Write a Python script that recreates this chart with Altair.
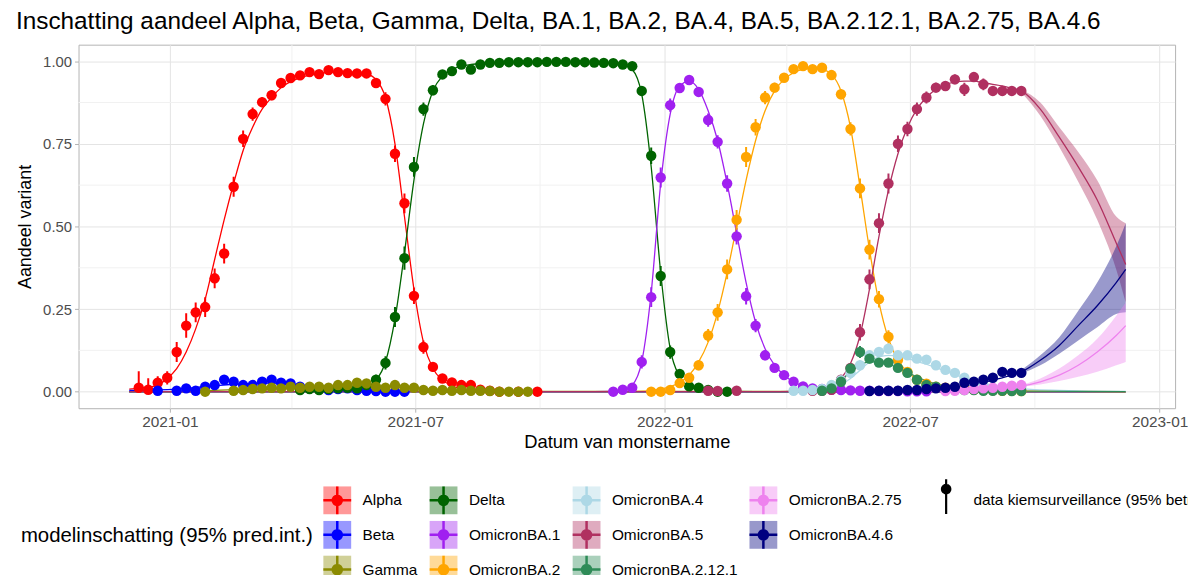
import altair as alt
import pandas as pd

# ---------------------------------------------------------------- texts / categories
TITLE = "Inschatting aandeel Alpha, Beta, Gamma, Delta, BA.1, BA.2, BA.4, BA.5, BA.2.12.1, BA.2.75, BA.4.6"
X_TITLE = "Datum van monstername"
Y_TITLE = "Aandeel variant"
LEGEND_TITLE = "modelinschatting (95% pred.int.)"
DATA_LABEL = "data kiemsurveillance (95% betr.int.)"

VARIANTS = ["Alpha", "Beta", "Gamma", "Delta", "OmicronBA.1", "OmicronBA.2", "OmicronBA.4",
            "OmicronBA.5", "OmicronBA.2.12.1", "OmicronBA.2.75", "OmicronBA.4.6"]
COLORS = ["#FF0000", "#0000FF", "#8B8B00", "#006400", "#A020F0", "#FFA500", "#ADD8E6",
          "#B03060", "#2E8B57", "#EE82EE", "#000080"]

BASE_DATE = "2020-12-09"          # week 0 of the weekly sampling grid
X_TICKS = ["2021-01-01", "2021-07-01", "2022-01-01", "2022-07-01", "2023-01-01"]
X_MINOR = ["2021-04-01", "2021-10-01", "2022-04-01", "2022-10-01"]
Y_TICKS = [0, 0.25, 0.5, 0.75, 1.0]
Y_MINOR = [0.125, 0.375, 0.625, 0.875]

# ---------------------------------------------------------------- observed data (week index, share, half-width)
alpha_wk = list(range(0, 39)) + [40, 42]
alpha_val = [0.012, 0.006, 0.027, 0.042, 0.12, 0.20, 0.24, 0.256, 0.343, 0.418, 0.62, 0.765, 0.84, 0.876,
             0.897, 0.934, 0.949, 0.957, 0.967, 0.961, 0.973, 0.967, 0.964, 0.963, 0.963, 0.934, 0.886,
             0.72, 0.57, 0.29, 0.135, 0.075, 0.04, 0.028, 0.02, 0.02, 0.006, 0.003, 0.0, 0.0, 0.0]
alpha_err = [0.05, 0.035, 0.02, 0.02, 0.03, 0.037, 0.03, 0.03, 0.03, 0.03, 0.03, 0.025, 0.02, 0.015,
             0.015, 0.012, 0.01, 0.01, 0.01, 0.01, 0.01, 0.01, 0.01, 0.01, 0.01, 0.015, 0.02, 0.025,
             0.03, 0.025, 0.02, 0.015, 0.01, 0.01, 0.01, 0.01, 0.005, 0.005, 0.003, 0.003, 0.003]

beta_wk = [2] + list(range(4, 29))
beta_val = [0.003, 0.003, 0.01, 0.003, 0.015, 0.02, 0.036, 0.03, 0.02, 0.02, 0.03, 0.036, 0.027, 0.025,
            0.015, 0.01, 0.008, 0.005, 0.008, 0.01, 0.005, 0.003, 0.002, 0.0, 0.0, 0.0]
beta_err = [0.005, 0.005, 0.008, 0.005, 0.008, 0.01, 0.012, 0.01, 0.01, 0.01, 0.01, 0.012, 0.01, 0.01,
            0.008, 0.006, 0.006, 0.005, 0.006, 0.006, 0.005, 0.004, 0.003, 0.003, 0.003, 0.003]

gamma_wk = [7] + list(range(10, 42))
gamma_val = [0.0, 0.003, 0.005, 0.008, 0.01, 0.012, 0.01, 0.015, 0.012, 0.015, 0.015, 0.012, 0.02, 0.02,
             0.027, 0.025, 0.015, 0.012, 0.02, 0.012, 0.012, 0.005, 0.003, 0.005, 0.003, 0.005, 0.003,
             0.003, 0.002, 0.0, 0.0, 0.0, 0.0]
gamma_err = [0.003, 0.004, 0.005, 0.006, 0.006, 0.007, 0.006, 0.008, 0.007, 0.008, 0.008, 0.007, 0.009,
             0.009, 0.01, 0.01, 0.008, 0.007, 0.009, 0.007, 0.007, 0.005, 0.004, 0.005, 0.004, 0.005,
             0.004, 0.004, 0.003, 0.003, 0.003, 0.003, 0.003]

delta_wk = list(range(17, 63))
delta_val = [0.005, 0.008, 0.005, 0.008, 0.01, 0.012, 0.01, 0.02,
             0.036, 0.087, 0.226, 0.404, 0.68, 0.855, 0.912, 0.96, 0.97,
             0.99, 0.975, 0.99, 0.995, 0.995, 0.997, 0.997, 0.997, 0.997, 0.998, 0.998, 0.998, 0.997,
             0.997, 0.996, 0.995, 0.994, 0.99, 0.985,
             0.91, 0.714, 0.35, 0.12, 0.054, 0.016, 0.012, 0.005, 0.0, 0.0]
delta_err = [0.005, 0.006, 0.005, 0.006, 0.007, 0.008, 0.007, 0.01,
             0.015, 0.02, 0.03, 0.035, 0.03, 0.02, 0.015, 0.01, 0.01,
             0.005, 0.01, 0.005, 0.004, 0.004, 0.003, 0.003, 0.003, 0.003, 0.003, 0.003, 0.003, 0.003,
             0.003, 0.003, 0.004, 0.004, 0.005, 0.008,
             0.015, 0.025, 0.03, 0.02, 0.012, 0.008, 0.006, 0.004, 0.003, 0.003]

ba1_wk = list(range(50, 84))
ba1_val = [0.0, 0.006, 0.012, 0.09, 0.286, 0.648, 0.867, 0.919, 0.943, 0.907, 0.822, 0.756, 0.63, 0.47,
           0.289, 0.2, 0.11, 0.072, 0.05, 0.03, 0.016, 0.01, 0.008, 0.006, 0.005, 0.004, 0.003, 0.003,
           0.002, 0.002, 0.002, 0.001, 0.001, 0.001]
ba1_err = [0.003, 0.005, 0.006, 0.02, 0.03, 0.03, 0.02, 0.015, 0.012, 0.015, 0.02, 0.02, 0.025, 0.025,
           0.025, 0.02, 0.015, 0.012, 0.01, 0.008, 0.006, 0.005, 0.004, 0.004, 0.003, 0.003, 0.003,
           0.003, 0.002, 0.002, 0.002, 0.002, 0.002, 0.002]

ba2_wk = list(range(54, 94))
ba2_val = [0.0, 0.0, 0.005, 0.026, 0.042, 0.08, 0.17, 0.24, 0.37, 0.52,
           0.71, 0.80, 0.89, 0.92, 0.95, 0.976, 0.985, 0.976, 0.98, 0.958,
           0.90, 0.795, 0.615, 0.43, 0.28, 0.166, 0.096, 0.06, 0.036, 0.024,
           0.015, 0.012, 0.01, 0.008, 0.006, 0.005, 0.004, 0.003, 0.003, 0.002]
ba2_err = [0.003, 0.003, 0.004, 0.008, 0.01, 0.015, 0.02, 0.025, 0.03, 0.03,
           0.03, 0.025, 0.02, 0.015, 0.012, 0.008, 0.006, 0.008, 0.008, 0.01,
           0.015, 0.02, 0.03, 0.03, 0.025, 0.02, 0.015, 0.01, 0.008, 0.006,
           0.005, 0.004, 0.004, 0.003, 0.003, 0.003, 0.003, 0.003, 0.003, 0.003]

ba4_wk = list(range(69, 94))
ba4_val = [0.003, 0.003, 0.005, 0.008, 0.02, 0.035, 0.057, 0.08, 0.11, 0.12, 0.13, 0.11, 0.11, 0.10,
           0.097, 0.08, 0.066, 0.057, 0.042, 0.027, 0.015, 0.01, 0.008, 0.01, 0.015]
ba4_err = [0.003, 0.003, 0.004, 0.005, 0.008, 0.01, 0.012, 0.015, 0.015, 0.015, 0.015, 0.015, 0.012,
           0.012, 0.012, 0.01, 0.01, 0.01, 0.008, 0.006, 0.005, 0.004, 0.004, 0.005, 0.006]

ba5_wk = [60, 61, 63] + list(range(71, 94))
ba5_val = [0.003, 0.002, 0.003,
           0.003, 0.003, 0.006, 0.036, 0.072, 0.18, 0.34, 0.51, 0.63, 0.75,
           0.795, 0.855, 0.89, 0.92, 0.925, 0.945, 0.915, 0.952, 0.93, 0.91, 0.91, 0.91, 0.91]
ba5_err = [0.003, 0.003, 0.003,
           0.003, 0.003, 0.004, 0.01, 0.015, 0.025, 0.03, 0.03, 0.03, 0.025,
           0.022, 0.02, 0.018, 0.015, 0.015, 0.015, 0.02, 0.015, 0.018, 0.015, 0.015, 0.015, 0.015]

ba2121_wk = list(range(72, 94))
ba2121_val = [0.003, 0.01, 0.03, 0.07, 0.12, 0.10, 0.088, 0.088, 0.072, 0.057, 0.036, 0.02, 0.015,
              0.01, 0.008, 0.005, 0.005, 0.003, 0.003, 0.003, 0.002, 0.002]
ba2121_err = [0.003, 0.005, 0.01, 0.015, 0.018, 0.015, 0.013, 0.013, 0.012, 0.01, 0.008, 0.006, 0.005,
              0.004, 0.004, 0.003, 0.003, 0.003, 0.003, 0.003, 0.002, 0.002]

ba275_wk = list(range(85, 94))
ba275_val = [0.002, 0.003, 0.005, 0.008, 0.01, 0.012, 0.015, 0.018, 0.02]
ba275_err = [0.002, 0.003, 0.003, 0.004, 0.005, 0.005, 0.006, 0.006, 0.007]

ba46_wk = list(range(77, 94))
ba46_val = [0.002, 0.003, 0.003, 0.003, 0.005, 0.005, 0.008, 0.01, 0.012, 0.015, 0.027, 0.03, 0.036,
            0.042, 0.06, 0.057, 0.057]
ba46_err = [0.002, 0.003, 0.003, 0.003, 0.003, 0.003, 0.004, 0.005, 0.005, 0.006, 0.008, 0.009, 0.01,
            0.01, 0.012, 0.012, 0.012]

# ---------------------------------------------------------------- model estimate (knots: week index, share)
alpha_m_wk = [-1, 0, 2, 3, 4, 5, 6, 7, 8, 9, 10, 11, 12, 13, 14, 15, 17, 19, 21, 23, 24, 25, 26, 27, 28,
              29, 30, 31, 32, 33, 35, 38, 45, 104]
alpha_m = [0.008, 0.01, 0.02, 0.04, 0.07, 0.12, 0.19, 0.28, 0.40, 0.52, 0.63, 0.73, 0.80, 0.855, 0.89,
           0.92, 0.95, 0.963, 0.968, 0.966, 0.962, 0.945, 0.89, 0.75, 0.53, 0.31, 0.15, 0.07, 0.035,
           0.018, 0.005, 0.001, 0.0, 0.0]
beta_m_wk = [-1, 4, 8, 11, 14, 17, 20, 24, 28, 34, 104]
beta_m = [0.004, 0.008, 0.018, 0.024, 0.026, 0.02, 0.012, 0.006, 0.002, 0.0, 0.0]
gamma_m_wk = [-1, 6, 10, 14, 18, 22, 26, 30, 34, 40, 104]
gamma_m = [0.0, 0.002, 0.006, 0.01, 0.014, 0.017, 0.015, 0.009, 0.004, 0.001, 0.0]
delta_m_wk = [-1, 16, 20, 22, 24, 25, 26, 27, 28, 29, 30, 31, 32, 33, 35, 38, 45, 50, 51, 52, 53, 54,
              55, 56, 57, 58, 59, 61, 65, 104]
delta_m = [0.0, 0.0, 0.002, 0.005, 0.015, 0.035, 0.09, 0.22, 0.42, 0.64, 0.81, 0.91, 0.955, 0.975,
           0.99, 0.996, 0.997, 0.995, 0.99, 0.975, 0.90, 0.68, 0.36, 0.13, 0.045, 0.015, 0.006, 0.001,
           0.0, 0.0]
ba1_m_wk = [-1, 48, 51, 52, 53, 54, 55, 56, 57, 58, 59, 60, 61, 62, 63, 64, 65, 66, 67, 68, 69, 70, 72,
            75, 80, 104]
ba1_m = [0.0, 0.0, 0.005, 0.02, 0.09, 0.30, 0.63, 0.84, 0.925, 0.94, 0.915, 0.85, 0.76, 0.63, 0.48,
         0.33, 0.21, 0.13, 0.08, 0.05, 0.03, 0.017, 0.006, 0.001, 0.0, 0.0]
ba2_m_wk = [-1, 52] + list(range(55, 84)) + [85, 88, 93, 104]
ba2_m = [0.0, 0.0,
         0.008, 0.015, 0.028, 0.05, 0.09, 0.15, 0.24, 0.36, 0.50, 0.64,
         0.76, 0.85, 0.91, 0.945, 0.965, 0.975, 0.978, 0.975, 0.96, 0.91,
         0.80, 0.62, 0.43, 0.27, 0.16, 0.095, 0.06, 0.038, 0.025,
         0.012, 0.005, 0.002, 0.0]
ba4_m_wk = [-1, 66, 70] + list(range(72, 85)) + [86, 88, 90, 92, 94, 97, 100, 104]
ba4_m = [0.0, 0.0, 0.002, 0.006, 0.012, 0.022, 0.04, 0.065, 0.09, 0.105, 0.11, 0.107, 0.10, 0.092,
         0.083, 0.073, 0.052, 0.033, 0.02, 0.012, 0.007, 0.004, 0.002, 0.001]
ba5_m_wk = [-1, 66, 69] + list(range(71, 94)) + [95, 97, 99, 101, 103, 104]
ba5_m = [0.0, 0.0, 0.001,
         0.004, 0.008, 0.018, 0.04, 0.085, 0.17, 0.31, 0.47, 0.61, 0.72,
         0.80, 0.855, 0.89, 0.915, 0.93, 0.937, 0.94, 0.94, 0.935, 0.93,
         0.925, 0.918, 0.91,
         0.855, 0.77, 0.68, 0.58, 0.45, 0.385]
ba2121_m_wk = [-1, 68] + list(range(71, 85)) + [86, 88, 90, 93, 104]
ba2121_m = [0.0, 0.0, 0.004, 0.008, 0.018, 0.035, 0.06, 0.08, 0.09, 0.09, 0.083, 0.072, 0.058, 0.045,
            0.033, 0.024, 0.012, 0.006, 0.003, 0.002, 0.0]
ba275_m_wk = [-1, 82, 86, 88, 90, 92, 93, 95, 97, 99, 101, 103, 104]
ba275_m = [0.0, 0.0, 0.003, 0.005, 0.008, 0.013, 0.017, 0.03, 0.05, 0.08, 0.12, 0.17, 0.20]
ba46_m_wk = [-1, 74, 78, 82, 84, 86, 88, 90, 92, 93, 95, 97, 99, 101, 103, 104]
ba46_m = [0.0, 0.0, 0.002, 0.005, 0.008, 0.013, 0.022, 0.035, 0.05, 0.06, 0.095, 0.14, 0.20, 0.26,
          0.33, 0.37]

# ---------------------------------------------------------------- 95% prediction bands (forecast part)
band_wk = [93, 95, 97, 99, 101, 103, 104]
ba5_lo = [0.905, 0.835, 0.74, 0.635, 0.52, 0.37, 0.27]
ba5_hi = [0.915, 0.875, 0.80, 0.725, 0.64, 0.53, 0.51]
ba46_lo = [0.055, 0.08, 0.115, 0.155, 0.195, 0.235, 0.24]
ba46_hi = [0.065, 0.11, 0.165, 0.245, 0.33, 0.44, 0.51]
ba275_lo = [0.015, 0.022, 0.032, 0.045, 0.06, 0.08, 0.09]
ba275_hi = [0.02, 0.04, 0.07, 0.11, 0.16, 0.23, 0.27]

# ---------------------------------------------------------------- tables
base = pd.Timestamp(BASE_DATE)


def wk_dates(weeks):
    return [base + pd.Timedelta(days=7 * w) for w in weeks]


obs_sets = [
    ("Alpha", alpha_wk, alpha_val, alpha_err),
    ("Beta", beta_wk, beta_val, beta_err),
    ("Delta", delta_wk, delta_val, delta_err),
    ("Gamma", gamma_wk, gamma_val, gamma_err),
    ("OmicronBA.1", ba1_wk, ba1_val, ba1_err),
    ("OmicronBA.2", ba2_wk, ba2_val, ba2_err),
    ("OmicronBA.5", ba5_wk, ba5_val, ba5_err),
    ("OmicronBA.4", ba4_wk, ba4_val, ba4_err),
    ("OmicronBA.2.12.1", ba2121_wk, ba2121_val, ba2121_err),
    ("OmicronBA.2.75", ba275_wk, ba275_val, ba275_err),
    ("OmicronBA.4.6", ba46_wk, ba46_val, ba46_err),
]
obs = pd.concat([pd.DataFrame({"variant": n, "date": wk_dates(w), "share": v, "err": e, "bron": DATA_LABEL})
                 for n, w, v, e in obs_sets], ignore_index=True)

model_sets = [
    ("Alpha", alpha_m_wk, alpha_m), ("Beta", beta_m_wk, beta_m), ("Gamma", gamma_m_wk, gamma_m),
    ("Delta", delta_m_wk, delta_m), ("OmicronBA.1", ba1_m_wk, ba1_m), ("OmicronBA.2", ba2_m_wk, ba2_m),
    ("OmicronBA.4", ba4_m_wk, ba4_m), ("OmicronBA.2.75", ba275_m_wk, ba275_m),
    ("OmicronBA.4.6", ba46_m_wk, ba46_m), ("OmicronBA.2.12.1", ba2121_m_wk, ba2121_m),
    ("OmicronBA.5", ba5_m_wk, ba5_m),
]
model = pd.concat([pd.DataFrame({"variant": n, "date": wk_dates(w), "share": v})
                   for n, w, v in model_sets], ignore_index=True)

band_sets = [("OmicronBA.5", ba5_lo, ba5_hi), ("OmicronBA.4.6", ba46_lo, ba46_hi),
             ("OmicronBA.2.75", ba275_lo, ba275_hi)]
bands = pd.concat([pd.DataFrame({"variant": n, "date": wk_dates(band_wk), "lo": lo, "hi": hi})
                   for n, lo, hi in band_sets], ignore_index=True)

minor_x = pd.DataFrame({"date": pd.to_datetime(X_MINOR)})
minor_y = pd.DataFrame({"share": Y_MINOR})

# ---------------------------------------------------------------- styling
FONT = "Liberation Sans"
PLOT_W, PLOT_H = 1104, 366
LEGEND_ORDER = ["Alpha", "Delta", "OmicronBA.4", "OmicronBA.2.75",
                "Beta", "OmicronBA.1", "OmicronBA.5", "OmicronBA.4.6",
                "Gamma", "OmicronBA.2", "OmicronBA.2.12.1"]
LEGEND_COLORS = [COLORS[VARIANTS.index(v)] for v in LEGEND_ORDER]
# the fill legend keys carry a trailing space so that Vega-Lite keeps the two legends apart
FILL_DOMAIN = [v + " " for v in LEGEND_ORDER]
LEG_X, LEG_Y = -58, 443
DATA_LEG_X, DATA_LEG_Y = 858, 443
KEY_SIZE = 784            # 28 px keys
KEY_STROKE = 2.5
POINT_KEY = ("M-1,0L1,0M0,-1L0,1"
             "M0.33,0A0.33,0.33,0,1,1,-0.33,0A0.33,0.33,0,1,1,0.33,0"
             "M0.22,0A0.22,0.22,0,1,1,-0.22,0A0.22,0.22,0,1,1,0.22,0"
             "M0.11,0A0.11,0.11,0,1,1,-0.11,0A0.11,0.11,0,1,1,0.11,0")
DATA_KEY = "M0,-1.5L0,1M0.3,-0.79A0.3,0.3,0,1,1,-0.3,-0.79A0.3,0.3,0,1,1,0.3,-0.79Z"

x_scale = alt.Scale(domain=[alt.DateTime(year=2020, month=10, date=25, hours=14),
                            alt.DateTime(year=2023, month=1, date=12, hours=10)], nice=False)
y_scale = alt.Scale(domain=[-0.05, 1.05], nice=False, zero=False)

x_axis = alt.Axis(values=[alt.DateTime(year=int(d[:4]), month=int(d[5:7]), date=1) for d in X_TICKS],
                  format="%Y-%m", title=X_TITLE, labelFontSize=15.5, labelColor="#4D4D4D",
                  tickColor="#B3B3B3", tickSize=4, labelPadding=2, domain=False,
                  gridColor="#E4E4E4", gridWidth=1, titleFontSize=18.5, titleFontWeight="normal",
                  titleColor="#000000", titlePadding=3, labelFlush=False)
y_axis = alt.Axis(values=Y_TICKS, format=".2f", title=Y_TITLE, labelFontSize=15, labelColor="#4D4D4D",
                  tickColor="#B3B3B3", tickSize=4, labelPadding=3, domain=False,
                  gridColor="#E4E4E4", gridWidth=1, titleFontSize=18, titleFontWeight="normal",
                  titleColor="#000000", titlePadding=8)

X = alt.X("date:T", scale=x_scale, axis=x_axis)

legend_common = dict(orient="none", legendX=LEG_X, legendY=LEG_Y, columns=4, direction="horizontal",
                     title=LEGEND_TITLE, titleOrient="left", titleAnchor="middle", titleBaseline="middle",
                     titleFontSize=20.5, titleFontWeight="normal", titleColor="#000000", titlePadding=9,
                     titleLimit=600, labelLimit=300,
                     labelFontSize=15.5, labelColor="#000000", labelOffset=10, rowPadding=-15,
                     columnPadding=6, symbolSize=KEY_SIZE, symbolStrokeWidth=KEY_STROKE)

# model lines: stroke legend (cross with dot), drawn over the squares, labels hidden
color_enc = alt.Color("variant:N", scale=alt.Scale(domain=LEGEND_ORDER, range=LEGEND_COLORS),
                      legend=alt.Legend(**legend_common, titleOpacity=0, labelOpacity=0, zindex=2,
                                        labelExpr="datum.label + ' '", symbolType=POINT_KEY,
                                        symbolFillColor="transparent", symbolOpacity=1))
# ribbons + points: fill legend (light squares with labels and title)
fill_enc = alt.Fill("vfill:N", scale=alt.Scale(domain=FILL_DOMAIN, range=LEGEND_COLORS),
                    legend=alt.Legend(**legend_common, zindex=1, symbolType="square",
                                      symbolOpacity=0.4, symbolStrokeColor="transparent"))

dash_enc = alt.StrokeDash("bron:N", scale=alt.Scale(domain=[DATA_LABEL], range=[[1, 0]]),
                          legend=alt.Legend(
                              orient="none", legendX=DATA_LEG_X, legendY=DATA_LEG_Y, title=None,
                              labelFontSize=15.5, labelColor="#000000", labelOffset=12,
                              symbolType=DATA_KEY, symbolSize=KEY_SIZE, symbolStrokeWidth=2.2,
                              labelLimit=400, symbolFillColor="#000000", symbolStrokeColor="#000000",
                              symbolOpacity=1))

grid_x = alt.Chart(minor_x).mark_rule(color="#F1F1F1", strokeWidth=1).encode(x=X)
grid_y = alt.Chart(minor_y).mark_rule(color="#F1F1F1", strokeWidth=1).encode(
    y=alt.Y("share:Q", scale=y_scale, axis=y_axis))

ribbons = alt.Chart(bands).transform_calculate(vfill="datum.variant + ' '").mark_area(
    opacity=0.4, interpolate="monotone").encode(
    x=X, y=alt.Y("lo:Q", scale=y_scale, axis=y_axis), y2="hi:Q", fill=fill_enc)

lines = alt.Chart(model).mark_line(strokeWidth=1.3, interpolate="monotone").encode(
    x=X, y=alt.Y("share:Q", scale=y_scale, axis=y_axis), color=color_enc)

errbars = alt.Chart(obs).transform_calculate(
    lo="max(0, datum.share - datum.err)", hi="min(1, datum.share + datum.err)"
).mark_rule(strokeWidth=2).encode(
    x=X, y=alt.Y("lo:Q", scale=y_scale, axis=y_axis), y2="hi:Q", color=color_enc,
    strokeDash=dash_enc)

points = alt.Chart(obs).transform_calculate(vfill="datum.variant + ' '").mark_point(
    filled=True, size=110, opacity=1).encode(
    x=X, y=alt.Y("share:Q", scale=y_scale, axis=y_axis), fill=fill_enc)

chart = alt.layer(grid_x, grid_y, ribbons, lines, errbars, points).properties(
    width=PLOT_W, height=PLOT_H,
    padding={"left": 71, "top": 35, "right": 13, "bottom": 166},
    autosize=alt.AutoSizeParams(type="none"),
    title=alt.Title(TITLE, anchor="start", frame="group", dx=-63, offset=10, fontSize=24.5,
                    fontWeight="normal", color="#000000", font=FONT),
).configure(font=FONT).configure_view(stroke="#B3B3B3", strokeWidth=1)

chart.save("out.html", embed_options={"renderer": "svg", "actions": False})
